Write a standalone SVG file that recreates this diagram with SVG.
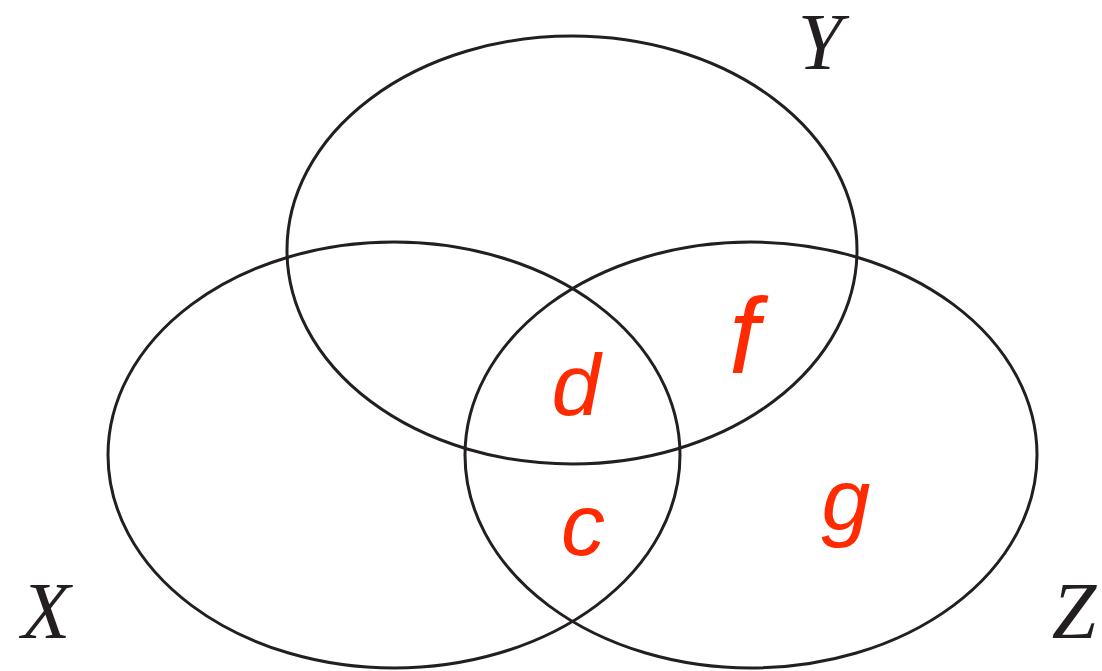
<svg xmlns="http://www.w3.org/2000/svg" width="1102" height="671" viewBox="0 0 1102 671">
<style>
.set{fill:none;stroke:#231f20;stroke-width:3}
.lab{font-family:"Liberation Serif","Times New Roman",serif;font-style:italic;font-size:80px;fill:#231f20}
.reg{font-family:"Liberation Sans",Arial,sans-serif;font-style:italic;font-size:88px;fill:#ff2a00}
</style>
<rect width="1102" height="671" fill="#fff"/>
<g id="sets">
<g id="Y"><ellipse class="set" cx="572" cy="250" rx="285" ry="214"/><text class="lab" x="820" y="69" text-anchor="middle">Y</text></g>
<g id="X"><ellipse class="set" cx="394" cy="455" rx="286" ry="213"/><text class="lab" x="46" y="638" text-anchor="middle">X</text></g>
<g id="Z"><ellipse class="set" cx="751" cy="455" rx="286" ry="213"/><text class="lab" x="1074" y="638" text-anchor="middle">Z</text></g>
</g>
<g id="regions">
<text class="reg" x="576" y="415" text-anchor="middle">d</text>
<text class="reg" x="744" y="373" text-anchor="middle" style="font-size:108px">f</text>
<text class="reg" x="583" y="555" text-anchor="middle">c</text>
<text class="reg" x="846" y="530" text-anchor="middle">g</text>
</g>
</svg>
